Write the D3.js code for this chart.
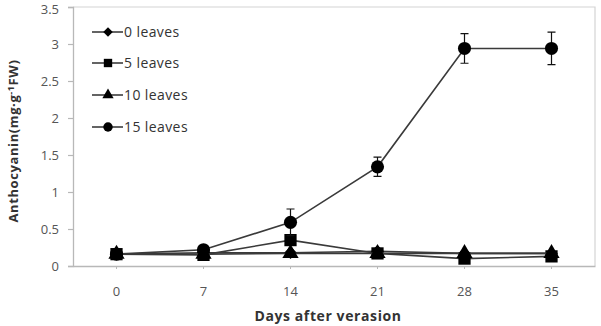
<!DOCTYPE html>
<html><head><meta charset="utf-8">
<script src="https://cdn.jsdelivr.net/npm/d3@7"></script>
<style>body{margin:0;background:#fff}svg{display:block}</style>
</head><body>
<svg id="c" width="601" height="326"></svg>
<script>
const days = ["0","7","14","21","28","35"];
const yTicks = [0,0.5,1,1.5,2,2.5,3,3.5];
const seriesNames = ["0 leaves","5 leaves","10 leaves","15 leaves"];
const leaves0  = [0.16,0.18,0.18,0.20,0.17,0.17];
const leaves5  = [0.16,0.15,0.35,0.17,0.10,0.13];
const leaves10 = [0.16,0.16,0.17,0.17,0.17,0.17];
const leaves15 = [0.16,0.22,0.59,1.34,2.94,2.94];
const err0  = [0.01,0.01,0.01,0.01,0.01,0.01];
const err5  = [0.01,0.01,0.03,0.02,0.01,0.01];
const err10 = [0.01,0.01,0.01,0.01,0.01,0.01];
const err15 = [0.01,0.03,0.18,0.13,0.20,0.22];

const diamondSym = { draw(ctx, size) { const r = Math.sqrt(size/2); ctx.moveTo(0,-r); ctx.lineTo(r,0); ctx.lineTo(0,r); ctx.lineTo(-r,0); ctx.closePath(); } };
const symbols = [diamondSym, d3.symbolSquare, d3.symbolTriangle, d3.symbolCircle];
const plotSizes = [80, 150, 115, 135];
const legSizes = [45, 70, 55, 70];

const series = [
  {name: seriesNames[0], v: leaves0, e: err0},
  {name: seriesNames[1], v: leaves5, e: err5},
  {name: seriesNames[2], v: leaves10, e: err10},
  {name: seriesNames[3], v: leaves15, e: err15}
];

const svg = d3.select("#c");
const L = 73, R = 595, T = 7, B = 266;
const font = "'Open Sans', 'Noto Sans', sans-serif";
const x = d3.scaleBand().domain(days).range([L, R]).padding(0);
const y = d3.scaleLinear().domain([0, 3.5]).range([B, T]);
const cx = d => x(d) + x.bandwidth()/2;

// plot border top/right
svg.append("path").attr("d", `M${L},${T}H${R}V${B}`).attr("fill","none").attr("stroke","#d4d4d4").attr("stroke-width",1.2);

// y axis
const ya = svg.append("g").attr("transform", `translate(${L},0)`)
  .call(d3.axisLeft(y).tickValues(yTicks).tickFormat(d3.format("")).tickSize(5).tickPadding(9));
ya.select(".domain").attr("stroke","#b8b8b8").attr("stroke-width",1.3);
ya.selectAll(".tick line").attr("stroke","#b8b8b8").attr("stroke-width",1.2);
ya.selectAll("text").attr("font-family", font).attr("font-size", 13).attr("fill","#555");
ya.selectAll(".tick").filter(d => d === 3.5).select("text").attr("dy", "0.32em").attr("y", 2);

// x axis
const xa = svg.append("g").attr("transform", `translate(0,${B})`)
  .call(d3.axisBottom(x).tickSize(3).tickSizeOuter(0).tickPadding(18));
xa.select(".domain").attr("stroke","#b8b8b8").attr("stroke-width",1.3);
xa.selectAll(".tick line").attr("stroke","#b8b8b8");
xa.selectAll("text").attr("font-family", font).attr("font-size", 13).attr("fill","#555");

// axis titles
svg.append("text").attr("transform", `translate(18,141) rotate(-90)`).attr("text-anchor","middle")
  .attr("font-family", font).attr("font-size", 13).attr("letter-spacing", 0.6).attr("font-weight","bold").attr("fill","#333")
  .call(t => {
    t.append("tspan").text("Anthocyanin(mg·g");
    t.append("tspan").attr("font-size", 9).attr("dy", -4).text("-1");
    t.append("tspan").attr("dy", 4).text("FW)");
  });
svg.append("text").attr("x", 328).attr("y", 321).attr("text-anchor","middle")
  .attr("font-family", font).attr("font-size", 14).attr("letter-spacing", 0.6).attr("font-weight","bold").attr("fill","#333")
  .text("Days after verasion");

const line = d3.line().x((d,i) => cx(days[i])).y(d => y(d));
series.forEach((s, k) => {
  const g = svg.append("g");
  g.append("path").attr("d", line(s.v)).attr("fill","none").attr("stroke","#3a3a3a").attr("stroke-width",1.6);
  s.v.forEach((v,i) => {
    const xx = cx(days[i]);
    g.append("path").attr("d", `M${xx},${y(v+s.e[i])}V${y(v-s.e[i])}M${xx-4},${y(v+s.e[i])}H${xx+4}M${xx-4},${y(v-s.e[i])}H${xx+4}`)
      .attr("stroke","#111").attr("stroke-width",1.2).attr("fill","none");
    g.append("path").attr("d", d3.symbol().type(symbols[k]).size(plotSizes[k])())
      .attr("transform", `translate(${xx},${y(v)})`).attr("fill","#000");
  });
});

// legend
const legY = [32, 63, 95, 127];
series.forEach((s,k) => {
  const g = svg.append("g").attr("transform", `translate(0,${legY[k]})`);
  g.append("line").attr("x1",92).attr("x2",123).attr("y1",0).attr("y2",0).attr("stroke","#222").attr("stroke-width",1.4);
  g.append("path").attr("d", d3.symbol().type(symbols[k]).size(legSizes[k])()).attr("transform","translate(108,0)").attr("fill","#000");
  g.append("text").attr("x",124).attr("y",5).attr("font-family", font).attr("font-size", 14).attr("letter-spacing", 0.4).attr("fill","#333").text(s.name);
});
</script>
</body></html>
